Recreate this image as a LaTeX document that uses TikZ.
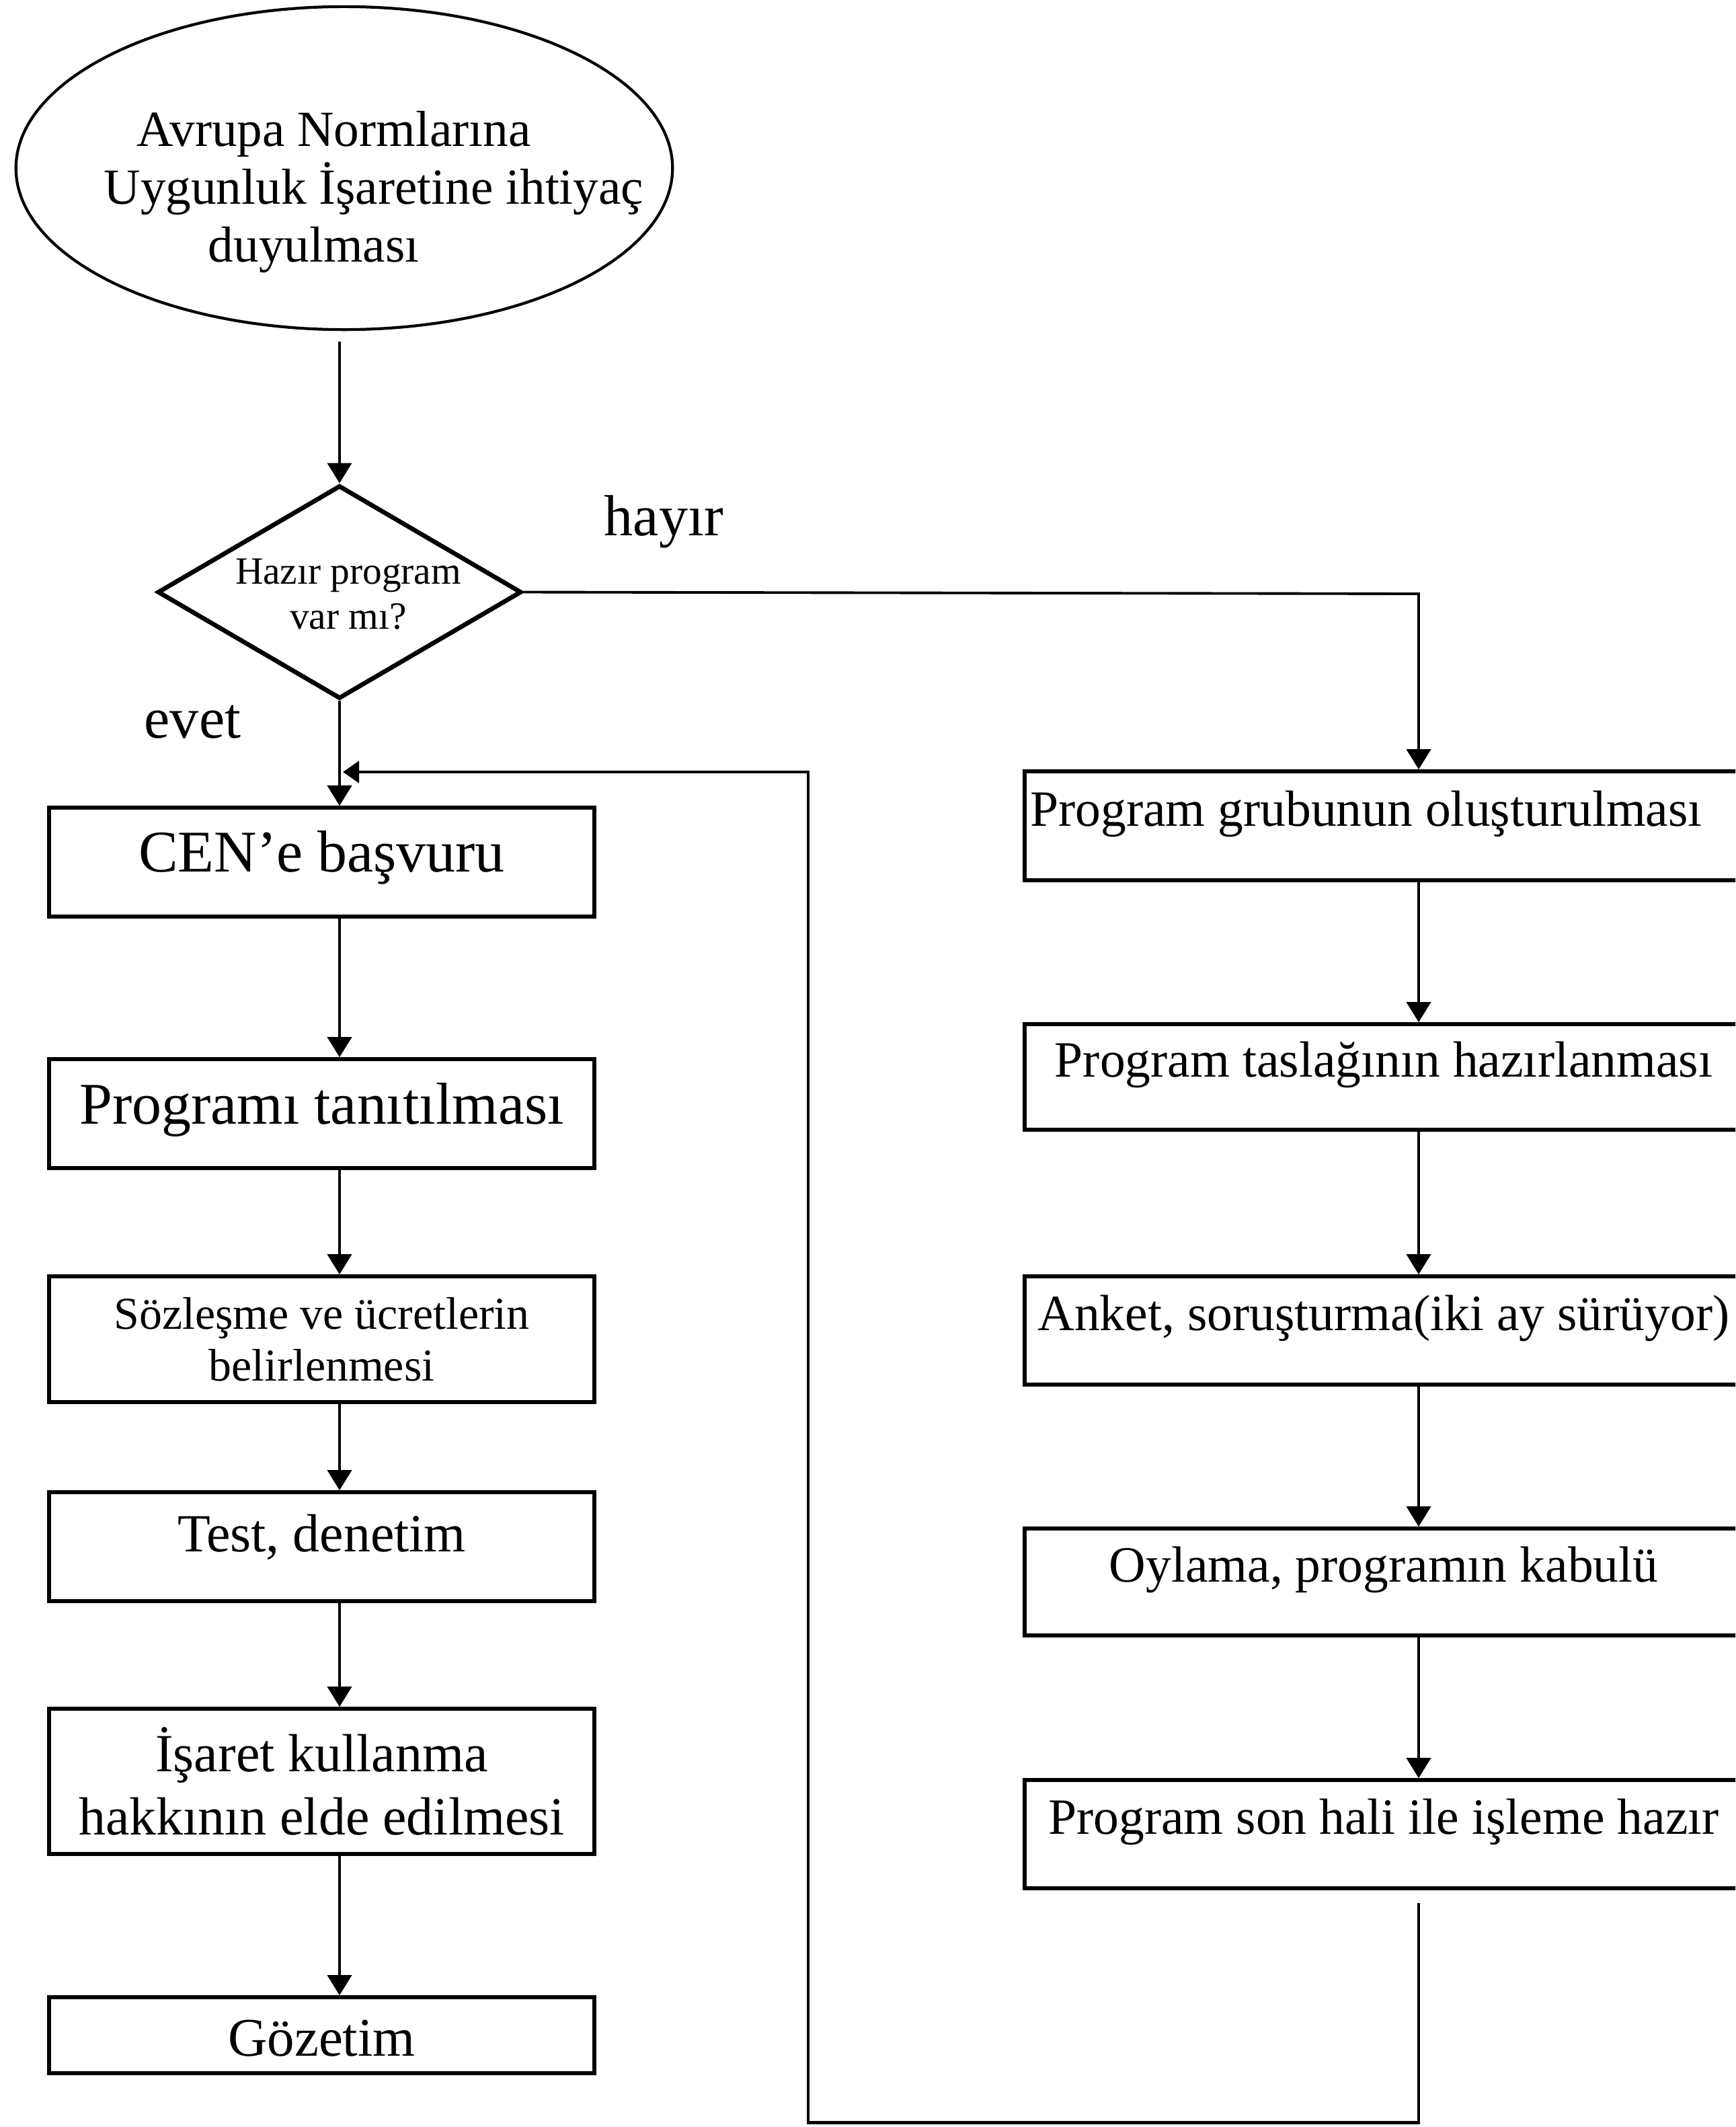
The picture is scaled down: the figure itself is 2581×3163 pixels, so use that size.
\documentclass[tikz,border=0pt]{standalone}
\usepackage{fontspec}
\setmainfont{Liberation Serif}
\usetikzlibrary{shapes.geometric,arrows.meta}
\begin{document}
\begin{tikzpicture}[x=0.01cm,y=-0.01cm,
  box/.style={draw, line width=1.6pt, rectangle, inner sep=0pt},
  lbox/.style={box, minimum width=8.11cm},
  rbox/.style={box, minimum width=10.68cm, font=\fontsize{21.5}{24}\selectfont, text height=0.5cm, text depth=0.5cm},
  conn/.style={line width=1.1pt},
  arr/.style={conn, -{Triangle[length=0.30cm,width=0.36cm]}},
  fbline/.style={line width=1.4pt, -{Triangle[length=0.24cm,width=0.32cm]}},
  lbl/.style={inner sep=0pt, anchor=base west, font=\fontsize{24.5}{28}\selectfont}
]
\useasboundingbox (0,0) rectangle (2581,3163);
\clip (0,0) rectangle (2581,3163);

% start ellipse
\node (start) [ellipse, draw, line width=1.2pt, inner sep=0pt, minimum width=9.76cm, minimum height=4.8cm] at (512,250) {};
\node (starttxt) [align=left, inner sep=0pt, font=\fontsize{21.4}{24.5}\selectfont] at (556,285.5)
  {\hspace*{0.49cm}Avrupa Normlarına\\Uygunluk İşaretine ihtiyaç\\\hspace*{1.55cm}duyulması};

% decision
\node (dec) [diamond, draw, line width=1.9pt, inner sep=0pt, minimum width=5.41cm, minimum height=3.17cm] at (505,880.5) {};
\node (dectxt) [align=center, inner sep=0pt, font=\fontsize{16.3}{18.9}\selectfont] at (518,883.7) {Hazır program\\var mı?};

\node (hayir) [lbl] at (898,796) {hayır};
\node (evet) [lbl] at (214,1097) {evet};

% left column
\node (L1) [lbox, minimum height=1.62cm, font=\fontsize{25}{28}\selectfont, text height=0.5cm, text depth=0.22cm] at (478.5,1282) {CEN’e başvuru};
\node (L2) [lbox, minimum height=1.62cm, font=\fontsize{25}{28}\selectfont, text height=0.5cm, text depth=0.20cm] at (478.5,1656) {Programı tanıtılması};
\node (L3) [lbox, minimum height=1.87cm, align=center, font=\fontsize{19.3}{21.9}\selectfont] at (478.5,1991.5) {Sözleşme ve ücretlerin\\belirlenmesi};
\node (L4) [lbox, minimum height=1.62cm, font=\fontsize{22.7}{26}\selectfont, text height=0.5cm, text depth=0.36cm] at (478.5,2300) {Test, denetim};
\node (L5) [lbox, minimum height=2.16cm, align=center, font=\fontsize{22.7}{26.5}\selectfont] at (478.5,2649) {İşaret kullanma\\hakkının elde edilmesi};
\node (L6) [lbox, minimum height=1.13cm, font=\fontsize{23}{26}\selectfont, text height=0.7cm, text depth=0.09cm] at (478.5,3026.5) {Gözetim};

% right column
\node (R1) [rbox, minimum height=1.62cm] at (2058,1228) {Program grubunun oluşturulması\hspace*{0.52cm}};
\node (R2) [rbox, minimum height=1.57cm] at (2058,1601.5) {Program taslağının hazırlanması};
\node (R3) [rbox, minimum height=1.61cm] at (2058,1978.5) {Anket, soruşturma(iki ay sürüyor)};
\node (R4) [rbox, minimum height=1.59cm] at (2058,2352.5) {Oylama, programın kabulü};
\node (R5) [rbox, minimum height=1.61cm] at (2058,2727.5) {Program son hali ile işleme hazır};

% coordinates
\coordinate (rc) at (2110,883);
\coordinate (fb1) at (2110,3156);
\coordinate (fb2) at (1202,3156);
\coordinate (fb3) at (1202,1148);
\coordinate (fbend) at (510,1148);

% connectors
\draw[arr, shorten <=0.16cm] (start.south -| dec.north) -- (dec.north);
\draw[arr] (dec.east) -- (rc) -- (rc |- R1.north);
\draw[arr] (dec.south) -- (dec.south |- L1.north);
\draw[arr] (L1.south -| dec.south) -- (L2.north -| dec.south);
\draw[arr] (L2.south -| dec.south) -- (L3.north -| dec.south);
\draw[arr] (L3.south -| dec.south) -- (L4.north -| dec.south);
\draw[arr] (L4.south -| dec.south) -- (L5.north -| dec.south);
\draw[arr] (L5.south -| dec.south) -- (L6.north -| dec.south);
\draw[arr] (R1.south -| rc) -- (R2.north -| rc);
\draw[arr] (R2.south -| rc) -- (R3.north -| rc);
\draw[arr] (R3.south -| rc) -- (R4.north -| rc);
\draw[arr] (R4.south -| rc) -- (R5.north -| rc);
\draw[fbline, shorten <=0.19cm] (R5.south -| rc) -- (fb1) -- (fb2) -- (fb3) -- (fbend);
\end{tikzpicture}
\end{document}
